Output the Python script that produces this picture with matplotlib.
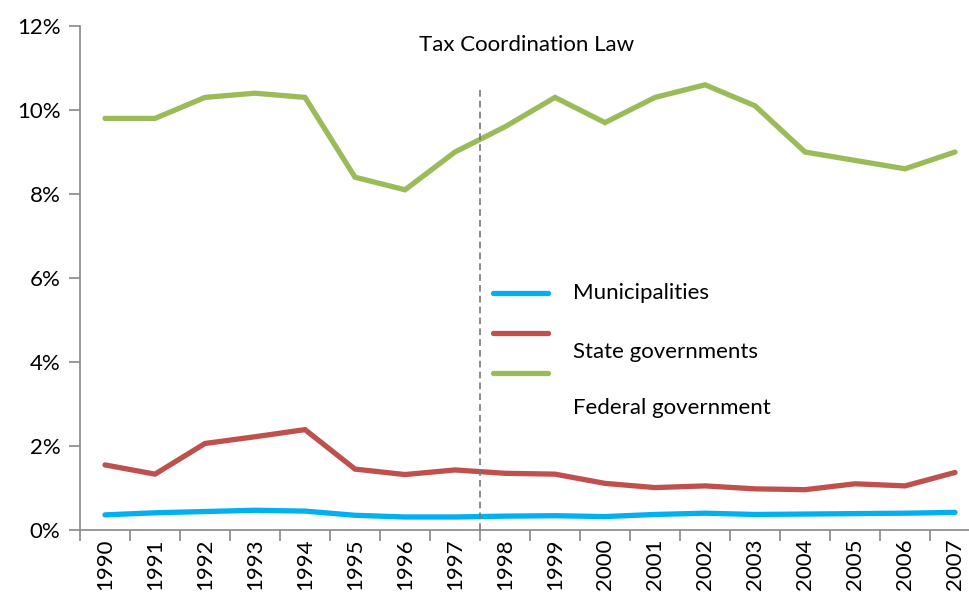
import matplotlib
matplotlib.use("Agg")
import matplotlib.pyplot as plt
from matplotlib.lines import Line2D
from matplotlib.ticker import FuncFormatter

plt.rcParams['font.family'] = ['Lato', 'DejaVu Sans']

years = [str(y) for y in range(1990, 2008)]
municipalities = [0.36, 0.41, 0.44, 0.47, 0.45, 0.35, 0.31, 0.31, 0.33, 0.34,
                  0.32, 0.37, 0.40, 0.37, 0.38, 0.39, 0.40, 0.42]
state = [1.55, 1.33, 2.06, 2.22, 2.39, 1.45, 1.32, 1.43, 1.35, 1.33,
         1.11, 1.01, 1.05, 0.98, 0.96, 1.10, 1.05, 1.37]
federal = [9.8, 9.8, 10.3, 10.4, 10.3, 8.4, 8.1, 9.0, 9.6, 10.3,
           9.7, 10.3, 10.6, 10.1, 9.0, 8.8, 8.6, 9.0]
labels = ['Municipalities', 'State governments', 'Federal government']
colors = ['#00B0F0', '#C0504D', '#9BBB59']

fig = plt.figure(figsize=(9.69, 6), dpi=100)
ax = fig.add_axes([80 / 969, 70 / 600, 900 / 969, 504 / 600])

x = list(range(len(years)))
for vals, c in zip([municipalities, state, federal], colors):
    ax.plot(x, vals, color=c, lw=3.8, solid_capstyle='round', solid_joinstyle='miter')

# reform marker
ax.plot([7.5, 7.5], [0, 10.48], color='#777777', lw=1.2, ls=(0, (4, 2.5)))
ax.text(8.44, 11.55, 'Tax Coordination Law', fontsize=16, ha='center', va='center')

ax.set_xlim(-0.5, 17.5)
ax.set_ylim(0, 12)
ax.set_yticks(range(0, 13, 2))
ax.yaxis.set_major_formatter(FuncFormatter(lambda v, p: f'{v:.0f}%'))
ax.set_xticks([i + 0.5 for i in range(-1, 18)])
ax.set_xticklabels([])
ax.set_xticks(x, minor=True)
ax.set_xticklabels(years, minor=True, rotation=90)
ax.tick_params(axis='x', which='major', length=8, width=1.2, color='#888888')
ax.tick_params(axis='x', which='minor', length=0, labelsize=16, pad=6)
ax.tick_params(axis='y', length=8, width=1.2, color='#888888', labelsize=16, pad=6)
for s in ['top', 'right']:
    ax.spines[s].set_visible(False)
for s in ['left', 'bottom']:
    ax.spines[s].set_color('#888888')
    ax.spines[s].set_linewidth(1.2)

# legend drawn by hand to match the original's offset layout
line_y = [1 - 293 / 600, 1 - 333 / 600, 1 - 373 / 600]
text_y = [1 - 293 / 600, 1 - 352 / 600, 1 - 408 / 600]
for c, ly, ty, lab in zip(colors, line_y, text_y, labels):
    fig.add_artist(Line2D([493 / 969, 548 / 969], [ly, ly], color=c, lw=3.8,
                          solid_capstyle='round', transform=fig.transFigure))
    fig.text(573 / 969, ty, lab, fontsize=16, va='center', ha='left')

fig.savefig('out.png', dpi=100)
